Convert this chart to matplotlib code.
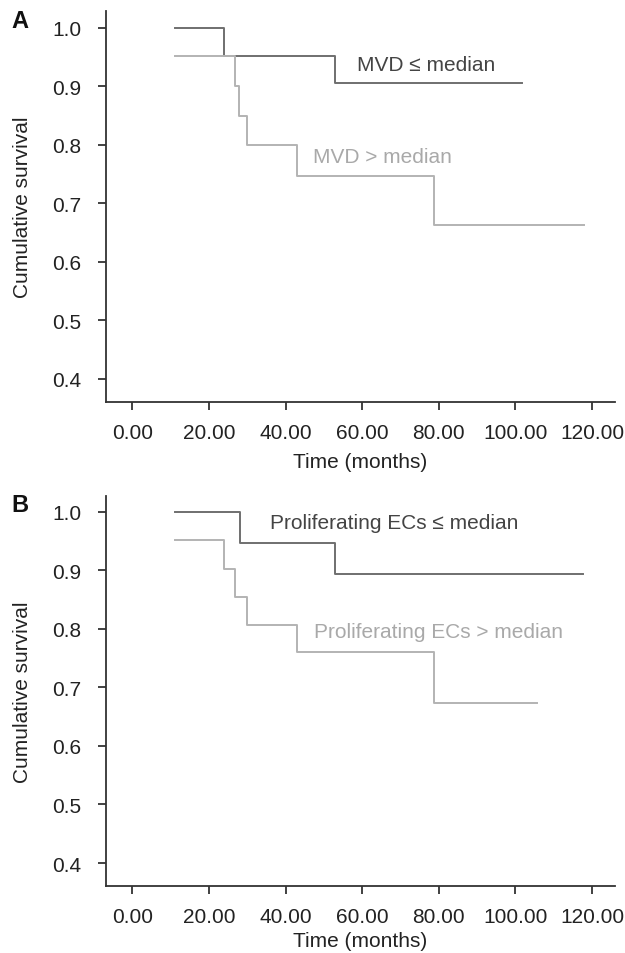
import matplotlib
matplotlib.use("Agg")
import matplotlib.pyplot as plt

plt.rcParams['font.family'] = ['Liberation Sans', 'DejaVu Sans']

# ---- data ----
x_ticks = [0, 20, 40, 60, 80, 100, 120]
x_tick_labels = ["0.00", "20.00", "40.00", "60.00", "80.00", "100.00", "120.00"]
y_ticks = [0.4, 0.5, 0.6, 0.7, 0.8, 0.9, 1.0]
y_tick_labels = ["0.4", "0.5", "0.6", "0.7", "0.8", "0.9", "1.0"]

mvd_low_time = [11.0, 24.0, 53.0, 101.8]
mvd_low_surv = [1.000, 0.952, 0.905, 0.905]
mvd_high_time = [11.0, 26.9, 27.9, 30.0, 43.0, 78.8, 117.9]
mvd_high_surv = [0.952, 0.900, 0.850, 0.800, 0.747, 0.663, 0.663]

prolif_low_time = [11.0, 28.0, 53.0, 117.6]
prolif_low_surv = [1.000, 0.947, 0.894, 0.894]
prolif_high_time = [11.0, 24.0, 26.9, 29.9, 43.0, 78.8, 105.6]
prolif_high_surv = [0.952, 0.903, 0.855, 0.807, 0.760, 0.674, 0.674]

labels_A = ["MVD \u2264 median", "MVD > median"]
labels_B = ["Proliferating ECs \u2264 median", "Proliferating ECs > median"]

DARK = "#6f6f6f"
LIGHT = "#b3b3b3"
DARK_TXT = "#444444"
LIGHT_TXT = "#a9a9a9"
AX = "#333333"
FS = 15

fig = plt.figure(figsize=(6.25, 9.54), dpi=100)
axA = fig.add_axes([0.1696, 0.5776, 0.8144, 0.4099])
axB = fig.add_axes([0.1696, 0.0702, 0.8144, 0.4088])


def style(ax, ylim, xlabelpad):
    ax.set_xlim(-6.9, 126.0)
    ax.set_ylim(*ylim)
    ax.set_xticks(x_ticks)
    ax.set_xticklabels(x_tick_labels)
    ax.set_yticks(y_ticks)
    ax.set_yticklabels(y_tick_labels)
    for s in ["top", "right"]:
        ax.spines[s].set_visible(False)
    for s in ["left", "bottom"]:
        ax.spines[s].set_color(AX)
        ax.spines[s].set_linewidth(1.3)
    ax.tick_params(axis="both", colors=AX, labelcolor="#222222", labelsize=FS,
                   width=1.3, length=6)
    ax.tick_params(axis="x", pad=9)
    ax.tick_params(axis="y", pad=12, length=6)
    ax.set_xlabel("Time (months)", fontsize=FS, color="#222222", labelpad=xlabelpad)
    ax.set_ylabel("Cumulative survival", fontsize=FS, color="#222222", labelpad=14)


style(axA, (0.3607, 1.029), 7)
style(axB, (0.3607, 1.027), 4)

axA.plot(mvd_low_time, mvd_low_surv, drawstyle="steps-post", color=DARK, lw=1.4)
axA.plot(mvd_high_time, mvd_high_surv, drawstyle="steps-post", color=LIGHT, lw=1.4)
axA.text(58.7, 0.938, labels_A[0], color=DARK_TXT, fontsize=FS, va="center", ha="left")
axA.text(47.2, 0.78, labels_A[1], color=LIGHT_TXT, fontsize=FS, va="center", ha="left")

axB.plot(prolif_low_time, prolif_low_surv, drawstyle="steps-post", color=DARK, lw=1.4)
axB.plot(prolif_high_time, prolif_high_surv, drawstyle="steps-post", color=LIGHT, lw=1.4)
axB.text(35.9, 0.981, labels_B[0], color=DARK_TXT, fontsize=FS, va="center", ha="left")
axB.text(47.4, 0.795, labels_B[1], color=LIGHT_TXT, fontsize=FS, va="center", ha="left")

fig.text(20 / 625, 1 - 21.5 / 954, "A", fontsize=17, fontweight="bold", ha="center", va="center", color="#111111")
fig.text(20 / 625, 1 - 506 / 954, "B", fontsize=17, fontweight="bold", ha="center", va="center", color="#111111")

fig.savefig("out.png", dpi=100)
